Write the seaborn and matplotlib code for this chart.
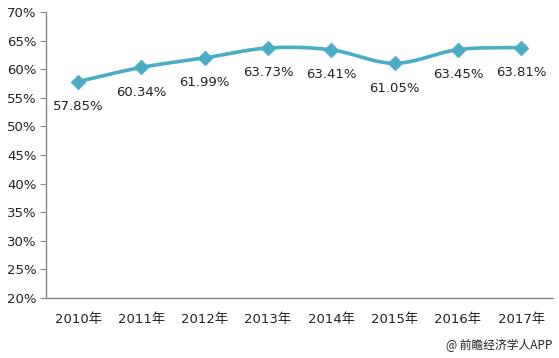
import numpy as np
import pandas as pd
import matplotlib
matplotlib.use("Agg")
import matplotlib.pyplot as plt
import seaborn as sns

years = ["2010年", "2011年", "2012年", "2013年", "2014年", "2015年", "2016年", "2017年"]
values = [57.85, 60.34, 61.99, 63.73, 63.41, 61.05, 63.45, 63.81]
yticks = [20, 25, 30, 35, 40, 45, 50, 55, 60, 65, 70]

sns.set_style("white")
plt.rcParams['font.family'] = ['DejaVu Sans', 'Noto Sans CJK SC']

df = pd.DataFrame({"x": np.arange(len(years)), "year": years, "v": values})

fig = plt.figure(figsize=(5.59, 3.58), dpi=100)
ax = fig.add_axes([0.083, 0.168, 0.906, 0.798])

color = "#4BACC6"

# smooth (Catmull-Rom) rendering path through the data points
def catmull(xs, ys, n=20):
    px = np.concatenate([[2*xs[0]-xs[1]], xs, [2*xs[-1]-xs[-2]]])
    py = np.concatenate([[2*ys[0]-ys[1]], ys, [2*ys[-1]-ys[-2]]])
    ox, oy = [], []
    for i in range(1, len(px) - 2):
        t = np.linspace(0, 1, n, endpoint=False)
        for arr, out in ((px, ox), (py, oy)):
            p0, p1, p2, p3 = arr[i-1], arr[i], arr[i+1], arr[i+2]
            out.extend(0.5*((2*p1) + (-p0+p2)*t + (2*p0-5*p1+4*p2-p3)*t**2 + (-p0+3*p1-3*p2+p3)*t**3))
    ox.append(xs[-1]); oy.append(ys[-1])
    return np.array(ox), np.array(oy)

sx, sy = catmull(df["x"].values.astype(float), df["v"].values)
sns.lineplot(x=sx, y=sy, ax=ax, color=color, linewidth=2.6, sort=False)
sns.scatterplot(data=df, x="x", y="v", ax=ax, color=color, marker="D", s=55,
                edgecolor=color, zorder=3)

for xi, v in zip(df["x"], df["v"]):
    ax.annotate(f"{v:.2f}%", (xi, v), xytext=(0, -18), textcoords="offset points",
                ha="center", va="center", fontsize=9.5, color="#222222")

ax.set_xlim(-0.5, len(years) - 0.5)
ax.set_ylim(20, 70)
ax.set_yticks(yticks)
ax.set_yticklabels([f"{t}%" for t in yticks], fontsize=9.5, color="#222222")
ax.set_xticks(df["x"])
ax.set_xticklabels(years, fontsize=9.5, color="#222222")
ax.set_xticks(np.arange(-0.5, len(years), 1), minor=True)
ax.tick_params(axis="x", which="major", length=0, pad=11)
ax.tick_params(axis="x", which="minor", length=4, color="#888888", direction="out")
ax.tick_params(axis="y", length=4, color="#888888", direction="out", left=True, pad=3)
ax.set_xlabel("")
ax.set_ylabel("")
for s in ["top", "right"]:
    ax.spines[s].set_visible(False)
for s in ["left", "bottom"]:
    ax.spines[s].set_color("#888888")
    ax.spines[s].set_linewidth(1)

fig.text(0.989, 0.035, "@ 前瞻经济学人APP", ha="right", va="center", fontsize=8.5,
         color="#222222", family=['Noto Sans CJK SC', 'DejaVu Sans'])

fig.savefig("out.png", dpi=100)
